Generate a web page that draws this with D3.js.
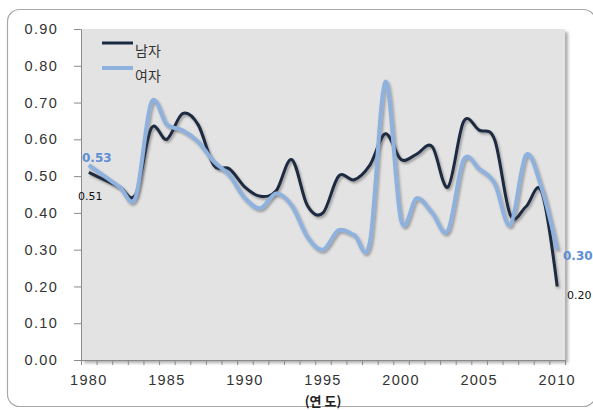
<!DOCTYPE html>
<html>
<head>
<meta charset="utf-8">
<script src="https://cdn.jsdelivr.net/npm/d3@7"></script>
<style>
  body { margin: 0; background: #fff; }
  svg { display: block; }
  .axis text { font-family: "Liberation Sans", Arial, sans-serif; font-size: 14.5px; fill: #333; letter-spacing: 1.3px; }
  .axis path, .axis line { stroke: #8a8a8a; }
</style>
</head>
<body>
<svg></svg>
<script>
'use strict';
// data
var years = d3.range(1980, 2011);
var male = [0.51, 0.49, 0.47, 0.45, 0.63, 0.60, 0.67, 0.64, 0.53, 0.52,
            0.47, 0.445, 0.46, 0.545, 0.42, 0.40, 0.50, 0.49, 0.53, 0.615,
            0.545, 0.56, 0.58, 0.47, 0.648, 0.625, 0.598, 0.394, 0.417, 0.458, 0.20];
var female = [0.53, 0.50, 0.47, 0.443, 0.70, 0.64, 0.625, 0.594, 0.54, 0.503,
              0.44, 0.413, 0.453, 0.42, 0.335, 0.30, 0.353, 0.34, 0.32, 0.757,
              0.38, 0.44, 0.40, 0.352, 0.544, 0.52, 0.48, 0.367, 0.557, 0.468, 0.30];
var yTicks = [0, 0.1, 0.2, 0.3, 0.4, 0.5, 0.6, 0.7, 0.8, 0.9];
var xLabelYears = [1980, 1985, 1990, 1995, 2000, 2005, 2010];
var seriesNames = ['남자', '여자'];

var canvasWidth = 593, canvasHeight = 410;
var plot = { left: 81, right: 565, top: 29, bottom: 360 };

var svg = d3.select('svg').attr('width', canvasWidth).attr('height', canvasHeight);
var defs = svg.append('defs');

var lineShadow = defs.append('filter').attr('id', 'lineShadow')
  .attr('x', '-10%').attr('y', '-10%').attr('width', '120%').attr('height', '120%');
lineShadow.append('feDropShadow')
  .attr('dx', 1.5).attr('dy', 2).attr('stdDeviation', 1.2)
  .attr('flood-color', '#444').attr('flood-opacity', 0.45);

var boxShadow = defs.append('filter').attr('id', 'boxShadow')
  .attr('x', '-5%').attr('y', '-5%').attr('width', '110%').attr('height', '110%');
boxShadow.append('feDropShadow')
  .attr('dx', 3).attr('dy', 3).attr('stdDeviation', 1.5)
  .attr('flood-color', '#777').attr('flood-opacity', 0.6);

// outer frame
svg.append('rect')
  .attr('x', 7.5).attr('y', 9.5)
  .attr('width', 588).attr('height', 397)
  .attr('rx', 12).attr('ry', 12)
  .attr('fill', '#fff').attr('stroke', '#a8a8a8').attr('stroke-width', 1.2);

// plot area background
svg.append('rect')
  .attr('x', plot.left).attr('y', plot.top)
  .attr('width', plot.right - plot.left).attr('height', plot.bottom - plot.top)
  .attr('fill', '#e3e3e3')
  .attr('filter', 'url(#boxShadow)');

// scales
var xScale = d3.scaleBand().domain(years).range([plot.left, plot.right]).padding(0);
var xTickScale = d3.scaleLinear().domain([0, years.length]).range([plot.left, plot.right]);
var yScale = d3.scaleLinear().domain([0, 0.9]).range([plot.bottom, plot.top]);

// y axis
svg.append('g')
  .attr('class', 'axis')
  .attr('transform', 'translate(' + plot.left + ',0)')
  .call(d3.axisLeft(yScale).tickValues(yTicks).tickFormat(d3.format('.2f'))
        .tickSize(7).tickSizeOuter(0).tickPadding(16));

// x axis: tick marks on category boundaries
svg.append('g')
  .attr('class', 'axis')
  .attr('transform', 'translate(0,' + plot.bottom + ')')
  .call(d3.axisBottom(xTickScale).tickValues(d3.range(0, years.length + 1))
        .tickFormat('').tickSize(5).tickSizeOuter(0));

// x axis labels
svg.append('g')
  .attr('class', 'axis')
  .attr('transform', 'translate(0,' + plot.bottom + ')')
  .call(d3.axisBottom(xScale).tickValues(xLabelYears).tickSize(0).tickPadding(15))
  .call(function(g) { g.select('.domain').remove(); });

svg.append('text')
  .attr('x', xScale(1995) + xScale.bandwidth() / 2)
  .attr('y', 401)
  .attr('dy', '0.35em')
  .attr('text-anchor', 'middle')
  .style('font-family', '"Noto Sans CJK KR", sans-serif')
  .style('font-size', '13px')
  .style('font-weight', 'bold')
  .style('fill', '#222')
  .text('(연 도)');

// lines
var xMap = function(d, i) { return xScale(years[i]) + xScale.bandwidth() / 2; };
var line = d3.line()
  .x(xMap)
  .y(function(d) { return yScale(d); })
  .curve(d3.curveCardinal.tension(0));

svg.append('path')
  .datum(male)
  .attr('d', line)
  .attr('fill', 'none')
  .attr('stroke', '#1b2942')
  .attr('stroke-width', 3)
  .attr('filter', 'url(#lineShadow)');

svg.append('path')
  .datum(female)
  .attr('d', line)
  .attr('fill', 'none')
  .attr('stroke', '#8fb1de')
  .attr('stroke-width', 4)
  .attr('filter', 'url(#lineShadow)');

// value labels at ends
function label(x, y, txt, color, bold, size) {
  svg.append('text')
    .attr('x', x).attr('y', y).attr('dy', '0.35em')
    .style('font-family', '"DejaVu Sans", sans-serif')
    .style('font-size', size + 'px')
    .style('font-weight', bold ? 'bold' : 'normal')
    .style('fill', color)
    .text(txt);
}
var last = years.length - 1;
label(82, yScale(female[0]) - 7, d3.format('.2f')(female[0]), '#5e8ed6', true, 12);
label(78, yScale(male[0]) + 24, d3.format('.2f')(male[0]), '#111', false, 11);
label(563, yScale(female[last]) + 6, d3.format('.2f')(female[last]), '#5e8ed6', true, 12);
label(567, yScale(male[last]) + 9, d3.format('.2f')(male[last]), '#111', false, 11);

// legend
var legendColors = ['#1b2942', '#8fb1de'];
var legendWidths = [3, 4];
seriesNames.forEach(function(name, i) {
  var ly = 43 + i * 25;
  svg.append('line')
    .attr('x1', 102).attr('x2', 133).attr('y1', ly).attr('y2', ly)
    .attr('stroke', legendColors[i]).attr('stroke-width', legendWidths[i]);
  svg.append('text')
    .attr('x', 135).attr('y', ly + 8).attr('dy', '0.35em')
    .style('font-family', '"Noto Sans CJK KR", sans-serif')
    .style('font-size', '14px')
    .style('fill', '#333')
    .text(name);
});
</script>
</body>
</html>
